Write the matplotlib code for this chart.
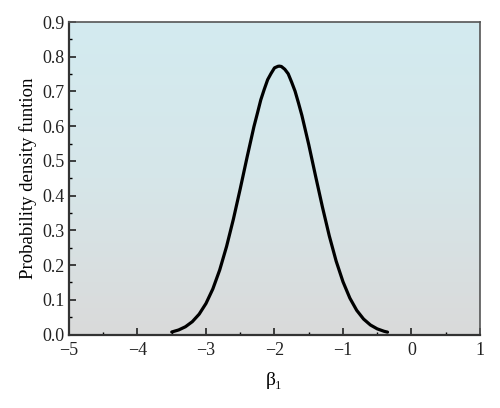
import numpy as np
import matplotlib
matplotlib.use("Agg")
import matplotlib.pyplot as plt
from matplotlib.ticker import MultipleLocator

# Values
beta1 = [-3.5, -3.4, -3.3, -3.2, -3.1, -3.0, -2.9, -2.8, -2.7, -2.6, -2.5, -2.4,
         -2.3, -2.25, -2.2, -2.15, -2.1, -2.05, -2.0, -1.95, -1.93, -1.9, -1.85,
         -1.8, -1.75, -1.7, -1.65, -1.6, -1.5, -1.4, -1.3,
         -1.2, -1.1, -1.0, -0.9, -0.8, -0.7, -0.6, -0.5, -0.4, -0.35]
pdf = [0.0074, 0.0132, 0.0225, 0.0371, 0.0587, 0.0896, 0.1315, 0.186, 0.2535,
       0.3325, 0.420, 0.511, 0.599, 0.637, 0.676, 0.706, 0.734, 0.752, 0.768,
       0.7724, 0.773, 0.772, 0.764, 0.751, 0.727, 0.701, 0.667, 0.631, 0.547,
       0.456, 0.367, 0.284, 0.2115, 0.152, 0.105, 0.0698,
       0.0447, 0.0276, 0.0164, 0.0094, 0.0070]

xticks = [-5, -4, -3, -2, -1, 0, 1]
yticks = [0.0, 0.1, 0.2, 0.3, 0.4, 0.5, 0.6, 0.7, 0.8, 0.9]

plt.rcParams['font.family'] = ['Liberation Serif', 'DejaVu Serif']

fig = plt.figure(figsize=(5.0, 4.08), dpi=100)
ax = fig.add_axes([0.138, 0.180, 0.822, 0.766])

# background gradient (top light blue -> bottom grey)
top = np.array([211, 235, 240]) / 255
mid = np.array([214, 230, 233]) / 255
bot = np.array([218, 218, 218]) / 255
n = 256
t = np.linspace(0, 1, n)[:, None]  # 0 top, 1 bottom
grad = np.where(t < 0.5, top + (mid - top) * (t / 0.5), mid + (bot - mid) * ((t - 0.5) / 0.5))
img = np.repeat(grad[:, None, :], 2, axis=1)
ax.imshow(img, extent=[0, 1, 0, 1], transform=ax.transAxes, aspect='auto', zorder=0)

ax.plot(beta1, pdf, color='black', lw=2.3, zorder=3, solid_capstyle='round',
        solid_joinstyle='round')

ax.set_xlim(-5, 1)
ax.set_ylim(0, 0.9)
ax.set_xticks(xticks)
ax.set_yticks(yticks)
ax.set_yticklabels([f"{v:.1f}" for v in yticks])
ax.set_xticklabels([f"{v}".replace('-', '\u2212') for v in xticks])
ax.xaxis.set_minor_locator(MultipleLocator(0.5))
ax.yaxis.set_minor_locator(MultipleLocator(0.05))
ax.tick_params(which='major', direction='in', length=5, width=1.2, top=False, right=False,
               labelsize=13, colors='#222222')
ax.tick_params(axis='x', which='major', pad=5)
ax.tick_params(axis='y', which='major', pad=3)
ax.tick_params(which='minor', direction='in', length=2.5, width=1.0, top=False, right=False)

for s in ['left', 'bottom']:
    ax.spines[s].set_linewidth(1.6)
    ax.spines[s].set_color('#333333')
for s in ['top', 'right']:
    ax.spines[s].set_linewidth(1.2)
    ax.spines[s].set_color('#555555')

ax.set_xlabel('β\u2081', fontsize=14, labelpad=10)
ax.set_ylabel('Probability density funtion', fontsize=13.5, labelpad=4)

fig.savefig('out.png', dpi=100)
